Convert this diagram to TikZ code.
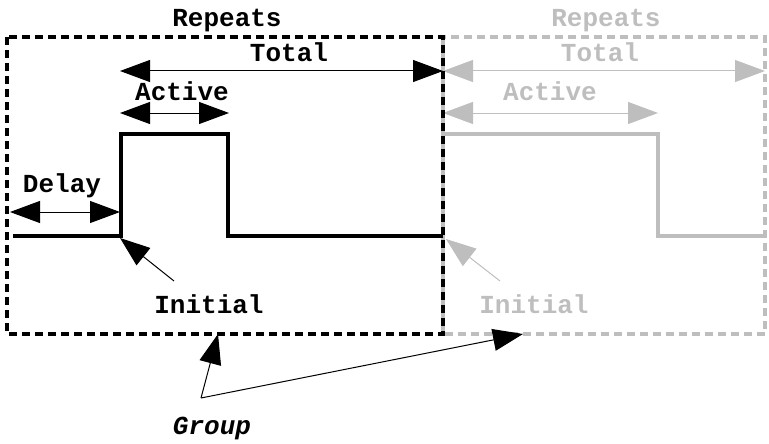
\documentclass[tikz,border=0pt]{standalone}
\usepackage{fontspec}
\setmainfont{Liberation Mono}
\usetikzlibrary{arrows.meta}
\definecolor{ghost}{RGB}{190,190,190}
\begin{document}
\begin{tikzpicture}[x=1pt,y=-1pt,
  lbl/.style={font=\bfseries\fontsize{26}{26}\selectfont, anchor=base, inner sep=0pt},
  dim/.style={{Triangle[length=30pt,width=22pt]}-{Triangle[length=30pt,width=22pt]}, line width=1pt},
  frame/.style={line width=3.5pt, dash pattern=on 8pt off 5pt},
  pulse/.style={line width=3.2pt},
  pointer/.style={line width=1pt, -{Triangle[length=30pt,width=22pt]}}]
\useasboundingbox (0,0) rectangle (769,444);
% gray (repeat) part
\begin{scope}[ghost, every node/.append style={text=ghost}]
\draw[frame] (443,37) rectangle (765,334);
\node[lbl] (rep2) at (606,27) {Repeats};
\node[lbl] (tot2) at (600,62) {Total};
\node[lbl] (act2) at (550,100) {Active};
\coordinate (t2a) at (443,71); \coordinate (t2b) at (765,71);
\draw[dim] (t2a) -- (t2b);
\coordinate (a2a) at (443,113); \coordinate (a2b) at (658,113);
\draw[dim] (a2a) -- (a2b);
\coordinate (p2a) at (443,236); \coordinate (p2b) at (443,134);
\coordinate (p2c) at (658,134); \coordinate (p2d) at (658,236);
\coordinate (p2e) at (765,236);
\draw[pulse] (p2a) -- (p2b) -- (p2c) -- (p2d) -- (p2e);
\node[lbl] (ini2) at (534,313) {Initial};
\coordinate (i2t) at (500,281); \coordinate (i2h) at (446,239);
\draw[pointer] (i2t) -- (i2h);
\end{scope}
% black part
\draw[frame] (7,37) rectangle (443,334);
\node[lbl] (rep1) at (227,27) {Repeats};
\node[lbl] (tot1) at (289,62) {Total};
\node[lbl] (act1) at (182,100) {Active};
\node[lbl] (del1) at (62,192) {Delay};
\coordinate (t1a) at (120,71); \coordinate (t1b) at (443,71);
\draw[dim] (t1a) -- (t1b);
\coordinate (a1a) at (120,113); \coordinate (a1b) at (229,113);
\draw[dim] (a1a) -- (a1b);
\coordinate (d1a) at (10,212); \coordinate (d1b) at (120,212);
\draw[dim] (d1a) -- (d1b);
\coordinate (p1a) at (13,236); \coordinate (p1b) at (121,236);
\coordinate (p1c) at (121,134); \coordinate (p1d) at (228,134);
\coordinate (p1e) at (228,236); \coordinate (p1f) at (443,236);
\draw[pulse] (p1a) -- (p1b) -- (p1c) -- (p1d) -- (p1e) -- (p1f);
\node[lbl] (ini1) at (209,313) {Initial};
\coordinate (i1t) at (174,281); \coordinate (i1h) at (120,238);
\draw[pointer] (i1t) -- (i1h);
% group
\node[lbl, font=\bfseries\itshape\fontsize{26}{26}\selectfont] (grp) at (212,434) {Group};
\coordinate (gj) at (201,398);
\coordinate (g1) at (218,334); \coordinate (g2) at (523,334);
\draw[pointer] (gj) -- (g1);
\draw[pointer] (gj) -- (g2);
\end{tikzpicture}
\end{document}
